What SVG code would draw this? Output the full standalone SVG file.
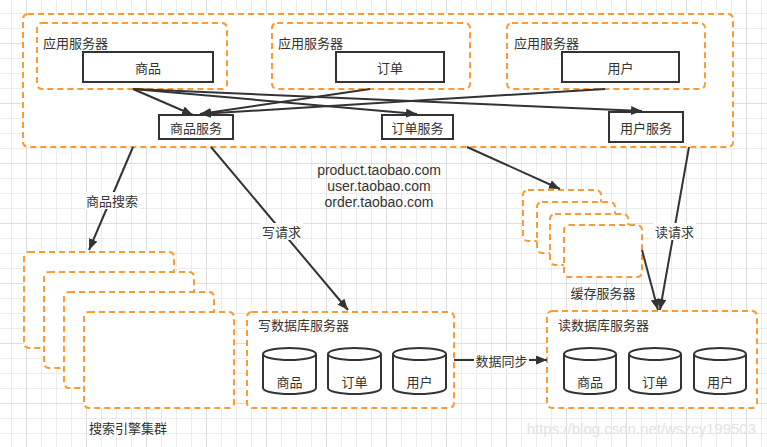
<svg xmlns="http://www.w3.org/2000/svg" width="767" height="447" viewBox="0 0 767 447">
<defs>
<pattern id="gminor" x="11" y="13" width="15" height="15" patternUnits="userSpaceOnUse"><path d="M0.5 0V15M0 0.5H15" stroke="#ececec" stroke-width="1" fill="none"/></pattern>
<pattern id="gmajor" x="26" y="43" width="60" height="60" patternUnits="userSpaceOnUse"><path d="M0.5 0V60M0 0.5H60" stroke="#dedede" stroke-width="1" fill="none"/></pattern>
<marker id="ah" markerUnits="userSpaceOnUse" markerWidth="12" markerHeight="10" refX="11" refY="4.5" orient="auto"><path d="M0 0L11 4.5L0 9Z" fill="#333"/></marker>
</defs>
<style>
.dash{fill:#fff;stroke:#FF9933;stroke-width:2;stroke-dasharray:6 4}
.box{fill:#fff;stroke:#333;stroke-width:2}
.t{font-family:"Noto Sans CJK SC","Liberation Sans",sans-serif;font-size:13px;fill:#333}
.d{font-family:"Liberation Sans",Arial,sans-serif;font-size:14px;fill:#333;text-anchor:middle}
.c{text-anchor:middle;dominant-baseline:central}
.l{fill:none;stroke:#333;stroke-width:2;marker-end:url(#ah)}
.lab{fill:#fff}
</style>
<rect width="767" height="447" fill="#fff"/>
<rect width="767" height="447" fill="url(#gminor)"/>
<rect width="767" height="447" fill="url(#gmajor)"/>

<g id="frontend">
<rect x="23" y="14" width="710" height="133" rx="5" class="dash"/>
</g>
<g id="app1">
<rect x="37" y="23" width="190" height="66" rx="5" class="dash"/>
<text x="43" y="48" class="t">应用服务器</text>
<rect x="83" y="52" width="130" height="30" class="box"/>
<text x="148" y="67" class="t c">商品</text>
</g>
<g id="app2">
<rect x="272" y="23" width="198" height="66" rx="5" class="dash"/>
<text x="278" y="48" class="t">应用服务器</text>
<rect x="336" y="52" width="108" height="30" class="box"/>
<text x="390" y="67" class="t c">订单</text>
</g>
<g id="app3">
<rect x="507" y="23" width="198" height="66" rx="5" class="dash"/>
<text x="514" y="48" class="t">应用服务器</text>
<rect x="562" y="52" width="117" height="30" class="box"/>
<text x="620.5" y="67" class="t c">用户</text>
</g>
<g id="svc-product">
<rect x="159" y="115" width="74" height="24" class="box"/>
<text x="196" y="127" class="t c">商品服务</text>
</g>
<g id="svc-order">
<rect x="382" y="115" width="71" height="24" class="box"/>
<text x="417.5" y="127" class="t c">订单服务</text>
</g>
<g id="svc-user">
<rect x="609" y="112" width="74" height="30" class="box"/>
<text x="646" y="127" class="t c">用户服务</text>
</g>

<g id="domains">
<text x="379" y="175" class="d">product.taobao.com</text>
<text x="379" y="191" class="d">user.taobao.com</text>
<text x="379" y="207" class="d">order.taobao.com</text>
</g>

<g id="search-cluster">
<rect x="24" y="252" width="150" height="96" rx="5" class="dash"/>
<rect x="44" y="272" width="150" height="96" rx="5" class="dash"/>
<rect x="64" y="292" width="150" height="96" rx="5" class="dash"/>
<rect x="84" y="312" width="150" height="96" rx="5" class="dash"/>
<text x="89" y="433" class="t">搜索引擎集群</text>
</g>

<g id="cache-cluster">
<rect x="523" y="190" width="78" height="51" rx="5" class="dash"/>
<rect x="537" y="202" width="78" height="51" rx="5" class="dash"/>
<rect x="550" y="214" width="78" height="51" rx="5" class="dash"/>
<rect x="564" y="225" width="78" height="52" rx="5" class="dash"/>
<text x="603" y="292" class="t c">缓存服务器</text>
</g>

<g id="write-db">
<rect x="247" y="312" width="207" height="96" rx="5" class="dash"/>
<text x="258" y="330" class="t">写数据库服务器</text>
<path d="M263 354v34a26.5 6 0 0 0 53 0v-34a26.5 6 0 0 0-53 0Z" class="box"/><path d="M263 354a26.5 6 0 0 0 53 0" fill="none" stroke="#333" stroke-width="2"/>
<text x="289.5" y="381" class="t c">商品</text>
<path d="M328 354v34a26.5 6 0 0 0 53 0v-34a26.5 6 0 0 0-53 0Z" class="box"/><path d="M328 354a26.5 6 0 0 0 53 0" fill="none" stroke="#333" stroke-width="2"/>
<text x="354.5" y="381" class="t c">订单</text>
<path d="M393 354v34a26.5 6 0 0 0 53 0v-34a26.5 6 0 0 0-53 0Z" class="box"/><path d="M393 354a26.5 6 0 0 0 53 0" fill="none" stroke="#333" stroke-width="2"/>
<text x="419.5" y="381" class="t c">用户</text>
</g>

<g id="read-db">
<rect x="547" y="311" width="210" height="97" rx="5" class="dash"/>
<text x="558" y="330" class="t">读数据库服务器</text>
<path d="M564 354v34a26 6 0 0 0 52 0v-34a26 6 0 0 0-52 0Z" class="box"/><path d="M564 354a26 6 0 0 0 52 0" fill="none" stroke="#333" stroke-width="2"/>
<text x="590" y="381" class="t c">商品</text>
<path d="M629 354v34a26 6 0 0 0 52 0v-34a26 6 0 0 0-52 0Z" class="box"/><path d="M629 354a26 6 0 0 0 52 0" fill="none" stroke="#333" stroke-width="2"/>
<text x="655" y="381" class="t c">订单</text>
<path d="M694 354v34a26 6 0 0 0 52 0v-34a26 6 0 0 0-52 0Z" class="box"/><path d="M694 354a26 6 0 0 0 52 0" fill="none" stroke="#333" stroke-width="2"/>
<text x="720" y="381" class="t c">用户</text>
</g>

<g id="connectors">
<path d="M133 89L193 115" class="l"/>
<path d="M133 89L417 114" class="l"/>
<path d="M133 89L642 111" class="l"/>
<path d="M370 89L200 114" class="l"/>
<path d="M605 89L200 114" class="l"/>
<path d="M133 147L89 250" class="l"/>
<path d="M211 147L348 310" class="l"/>
<path d="M467 147L560 189" class="l"/>
<path d="M689 147L660 310" class="l"/>
<path d="M642 250L658 310" class="l"/>
<path d="M454 360L547 360" class="l"/>
<rect x="85" y="192" width="54" height="17" class="lab"/>
<text x="112" y="200" class="t c">商品搜索</text>
<rect x="260" y="223" width="43" height="17" class="lab"/>
<text x="281.5" y="231" class="t c">写请求</text>
<rect x="653" y="223" width="43" height="17" class="lab"/>
<text x="674.5" y="231" class="t c">读请求</text>
<rect x="474" y="352" width="55" height="17" class="lab"/>
<text x="501.5" y="360" class="t c">数据同步</text>
</g>

<text x="756" y="434" text-anchor="end" font-family="Liberation Sans, Arial, sans-serif" font-size="15" fill="#e2e2e2">https://blog.csdn.net/wszcy199503</text>
</svg>
